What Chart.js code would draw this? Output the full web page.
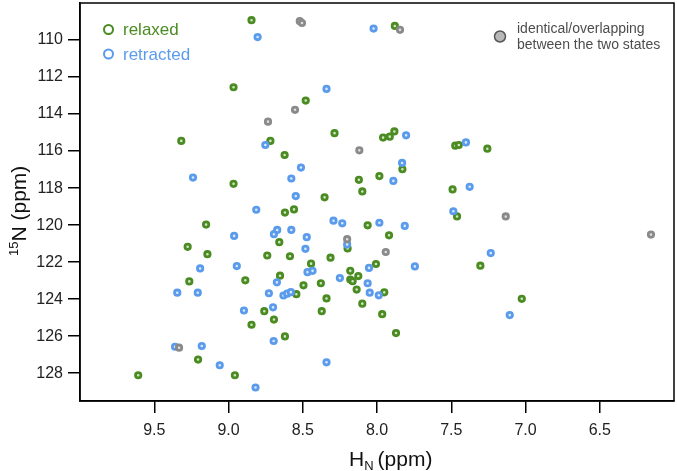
<!DOCTYPE html>
<html>
<head>
<meta charset="utf-8">
<script src="https://cdn.jsdelivr.net/npm/chart.js@4.4.1/dist/chart.umd.min.js"></script>
<style>
  html, body { margin: 0; padding: 0; background: #fff; }
  #wrap { width: 677px; height: 471px; position: relative; }
</style>
</head>
<body>
<div id="wrap"><canvas id="hsqc"></canvas></div>
<script>
// peak positions (1H ppm, 15N ppm)
const relaxedH = [8.845, 8.966, 9.318, 8.718, 8.966, 8.480, 7.880, 8.286, 7.883, 7.914,
  7.959, 7.473, 7.449, 8.622, 7.829, 8.122, 7.984, 8.099, 7.491, 8.353,
  7.257, 9.151, 8.658, 9.275, 9.142, 8.739, 9.264, 8.887, 8.653, 8.759,
  8.694, 8.845, 9.205, 9.608, 8.957, 8.620, 8.559, 8.063, 7.919, 8.198,
  8.586, 8.313, 8.444, 7.461, 7.304, 8.180, 8.007, 8.180, 8.164, 8.126,
  8.378, 8.495, 8.137, 7.951, 8.543, 8.340, 8.099, 8.372, 7.965, 7.872,
  8.620, 7.025];
const relaxedN = [108.93, 112.55, 115.45, 115.45, 117.77, 113.27, 109.24, 115.03, 114.94, 115.22,
  115.27, 115.71, 115.67, 116.21, 116.98, 117.55, 117.35, 118.18, 118.07, 118.50,
  115.87, 119.97, 120.92, 121.17, 121.57, 121.64, 123.04, 122.98, 122.73, 124.65,
  125.10, 125.38, 127.26, 128.11, 128.11, 119.32, 119.15, 120.01, 120.55, 121.26,
  121.68, 121.76, 122.08, 119.53, 122.19, 122.47, 122.10, 122.94, 123.03, 122.75,
  123.14, 123.25, 123.48, 123.63, 123.73, 123.96, 124.24, 124.65, 124.81, 125.83,
  126.01, 123.98];

const retractedH = [8.804, 8.752, 9.239, 8.023, 8.340, 7.804, 7.401, 8.512, 7.831, 8.577,
  7.890, 7.376, 8.547, 8.813, 8.962, 8.694, 8.672, 9.191, 8.944, 8.674,
  9.345, 9.207, 8.728, 8.896, 8.700, 8.696, 9.360, 9.180, 9.059, 8.818,
  8.577, 8.473, 8.482, 8.293, 8.234, 7.984, 7.813, 8.201, 7.486, 7.745,
  8.468, 8.434, 8.054, 8.250, 8.063, 8.049, 7.988, 8.630, 8.605, 8.580,
  8.340, 7.234, 7.106];
const retractedN = [109.84, 115.67, 117.43, 109.38, 112.64, 115.15, 115.53, 116.89, 116.64, 117.48,
  117.61, 117.93, 118.43, 119.17, 120.58, 120.49, 120.26, 122.34, 122.21, 123.09,
  123.65, 123.65, 123.68, 124.61, 124.44, 126.26, 126.57, 126.53, 127.57, 128.77,
  120.26, 120.65, 121.28, 119.76, 119.90, 119.87, 120.04, 121.04, 119.25, 122.23,
  122.54, 122.47, 122.31, 122.86, 123.14, 123.65, 123.79, 123.80, 123.70, 123.62,
  127.41, 121.51, 124.86];

const overlapH = [8.734, 8.520, 8.505, 7.845, 8.552, 8.119, 9.333, 8.201, 7.941, 7.133, 6.155];
const overlapN = [114.41, 108.98, 109.08, 109.45, 113.77, 115.96, 126.62, 120.76, 121.45, 119.53, 120.51];

const xTicks = [9.5, 9.0, 8.5, 8.0, 7.5, 7.0, 6.5];
const yTicks = [110, 112, 114, 116, 118, 120, 122, 124, 126, 128];

const GREEN = "#4a8b22";
const BLUE = "#5b9bec";
const GRAY = "#8a8a8a";

function toPoints(hs, ns) {
  return hs.map((h, i) => ({ x: h, y: ns[i] }));
}

const font = "'Liberation Sans', Arial, sans-serif";

// legend + axis titles + top/right frame
const decorPlugin = {
  id: "decor",
  afterDraw(chart) {
    const ctx = chart.ctx;
    const a = chart.chartArea;
    const top = Math.max(a.top, 2.5);
    ctx.save();

    ctx.strokeStyle = "#000";
    ctx.lineWidth = 1.5;
    ctx.strokeRect(a.left, top, a.right - a.left, a.bottom - top);

    // left legend
    ctx.lineWidth = 2;
    ctx.textBaseline = "middle";
    ctx.textAlign = "left";
    ctx.font = "17px " + font;
    [["relaxed", GREEN, 29.5], ["retracted", BLUE, 54]].forEach(([txt, col, y]) => {
      ctx.strokeStyle = col;
      ctx.beginPath();
      ctx.arc(108.5, y, 4.5, 0, Math.PI * 2);
      ctx.stroke();
      ctx.fillStyle = col;
      ctx.fillText(txt, 123, y + 1);
    });

    // right legend
    ctx.fillStyle = "#b8b8b8";
    ctx.strokeStyle = "#555";
    ctx.lineWidth = 1.5;
    ctx.beginPath();
    ctx.arc(500, 36.5, 5.5, 0, Math.PI * 2);
    ctx.fill();
    ctx.stroke();
    ctx.fillStyle = "#4d4d4d";
    ctx.font = "14px " + font;
    ctx.fillText("identical/overlapping", 517, 29);
    ctx.fillText("between the two states", 517, 45.5);

    // x title: H_N (ppm)
    ctx.fillStyle = "#111";
    ctx.textBaseline = "alphabetic";
    const bx = 349, by = 466;
    ctx.font = "21px " + font;
    ctx.fillText("H", bx, by);
    let w = ctx.measureText("H").width;
    ctx.font = "13px " + font;
    ctx.fillText("N", bx + w, by + 4);
    w += ctx.measureText("N").width + 4;
    ctx.font = "21px " + font;
    ctx.fillText("(ppm)", bx + w, by);

    // y title: 15N (ppm)
    ctx.translate(26, 256);
    ctx.rotate(-Math.PI / 2);
    ctx.font = "13px " + font;
    ctx.fillText("15", 0, -8);
    let w2 = ctx.measureText("15").width;
    ctx.font = "21px " + font;
    ctx.fillText("N (ppm)", w2, 0);
    ctx.restore();
  }
};

new Chart(document.getElementById("hsqc"), {
  type: "scatter",
  data: {
    datasets: [
      {
        label: "relaxed",
        data: toPoints(relaxedH, relaxedN),
        borderColor: GREEN,
        backgroundColor: "#d4e5c6",
        pointRadius: 2.7,
        borderWidth: 2.8,
        order: 2
      },
      {
        label: "retracted",
        data: toPoints(retractedH, retractedN),
        borderColor: BLUE,
        backgroundColor: "#dbe9fc",
        pointRadius: 2.7,
        borderWidth: 2.8,
        order: 1
      },
      {
        label: "overlap",
        data: toPoints(overlapH, overlapN),
        borderColor: GRAY,
        backgroundColor: "#dedede",
        pointRadius: 2.7,
        borderWidth: 2.8,
        order: 0
      }
    ]
  },
  options: {
    responsive: true,
    maintainAspectRatio: false,
    animation: false,
    events: [],
    layout: { autoPadding: false, padding: { left: 0, right: 3, top: 3, bottom: 0 } },
    plugins: {
      legend: { display: false },
      tooltip: { enabled: false }
    },
    scales: {
      x: {
        type: "linear",
        min: 6.0,
        max: 10.0,
        reverse: true,
        afterBuildTicks: function (scale) {
          scale.ticks = xTicks.map(v => ({ value: v }));
        },
        afterFit: function (scale) {
          scale.height = 70;
          scale.paddingLeft = 0;
          scale.paddingRight = 0;
        },
        grid: {
          drawOnChartArea: false,
          color: "#000",
          lineWidth: 1.5,
          tickLength: 12
        },
        border: { color: "#000", width: 1.5 },
        ticks: {
          callback: v => v.toFixed(1),
          font: { size: 16, family: font },
          color: "#222",
          padding: 8,
          maxRotation: 0
        }
      },
      y: {
        type: "linear",
        min: 108,
        max: 129.5,
        reverse: true,
        afterBuildTicks: function (scale) {
          scale.ticks = yTicks.map(v => ({ value: v }));
        },
        afterFit: function (scale) {
          scale.width = 80;
          scale.paddingTop = 0;
          scale.paddingBottom = 0;
        },
        grid: {
          drawOnChartArea: false,
          color: "#000",
          lineWidth: 1.5,
          tickLength: 12
        },
        border: { color: "#000", width: 1.5 },
        ticks: {
          callback: v => String(v),
          font: { size: 16, family: font },
          color: "#222",
          padding: 5
        }
      }
    }
  },
  plugins: [decorPlugin]
});
</script>
</body>
</html>
